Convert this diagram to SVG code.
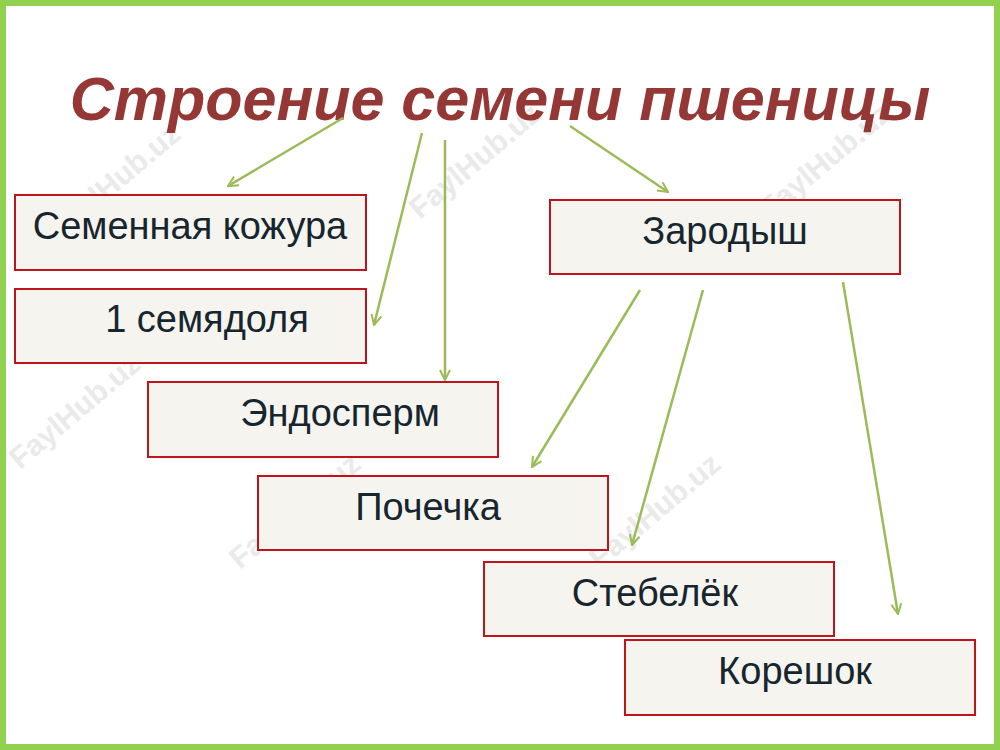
<svg xmlns="http://www.w3.org/2000/svg" width="1000" height="750" viewBox="0 0 1000 750">
<style>
.box{fill:#f6f4ef;stroke:#c0141c;stroke-width:2}
.lbl{font-family:"Liberation Sans",Arial,sans-serif;font-size:38px;fill:#17262e;text-anchor:middle}
.wm{font-family:"Liberation Sans",Arial,sans-serif;font-size:30px;font-weight:bold;fill:#e6e6e6;opacity:0.8}
.ar{stroke:#9bbb59;stroke-width:2.5;fill:none;marker-end:url(#ah)}
</style>
<defs>
<marker id="ah" viewBox="0 0 12 12" refX="11" refY="6" markerWidth="12" markerHeight="12" markerUnits="userSpaceOnUse" orient="auto">
<path d="M1,1 L11,6 L1,11" fill="none" stroke="#9bbb59" stroke-width="2"/>
</marker>
</defs>
<rect x="0" y="0" width="1000" height="750" fill="#ffffff"/>
<rect x="3" y="3" width="994" height="744" fill="none" stroke="#92d050" stroke-width="6"/>
<g>
<text class="wm" transform="translate(60,240) rotate(-40)">FaylHub.uz</text>
<text class="wm" transform="translate(420,220) rotate(-40)">FaylHub.uz</text>
<text class="wm" transform="translate(770,220) rotate(-40)">FaylHub.uz</text>
<text class="wm" transform="translate(20,470) rotate(-40)">FaylHub.uz</text>
<text class="wm" transform="translate(240,570) rotate(-40)">FaylHub.uz</text>
<text class="wm" transform="translate(600,570) rotate(-40)">FaylHub.uz</text>
</g>
<text x="500" y="120" font-family="'Liberation Sans',Arial,sans-serif" font-size="61" font-weight="bold" font-style="italic" fill="#953735" text-anchor="middle">Строение семени пшеницы</text>
<g id="n1"><rect class="box" x="15" y="195" width="351" height="75"/><text class="lbl" x="190" y="239">Семенная кожура</text></g>
<g id="n2"><rect class="box" x="15" y="289" width="351" height="74"/><text class="lbl" x="207" y="332">1 семядоля</text></g>
<g id="n3"><rect class="box" x="148" y="382" width="350" height="75"/><text class="lbl" x="340" y="426">Эндосперм</text></g>
<g id="n4"><rect class="box" x="258" y="476" width="350" height="74"/><text class="lbl" x="428" y="520">Почечка</text></g>
<g id="n5"><rect class="box" x="484" y="562" width="350" height="74"/><text class="lbl" x="655" y="606">Стебелёк</text></g>
<g id="n6"><rect class="box" x="625" y="640" width="350" height="75"/><text class="lbl" x="795" y="684">Корешок</text></g>
<g id="n7"><rect class="box" x="550" y="200" width="350" height="74"/><text class="lbl" x="725" y="244">Зародыш</text></g>
<g id="connectors">
<line class="ar" x1="343" y1="118" x2="228" y2="186"/>
<line class="ar" x1="422" y1="133" x2="374" y2="325"/>
<line class="ar" x1="445" y1="140" x2="445" y2="380"/>
<line class="ar" x1="570" y1="126" x2="668" y2="192"/>
<line class="ar" x1="640" y1="290" x2="532" y2="467"/>
<line class="ar" x1="703" y1="290" x2="632" y2="545"/>
<line class="ar" x1="843" y1="282" x2="898" y2="614"/>
</g>
</svg>
